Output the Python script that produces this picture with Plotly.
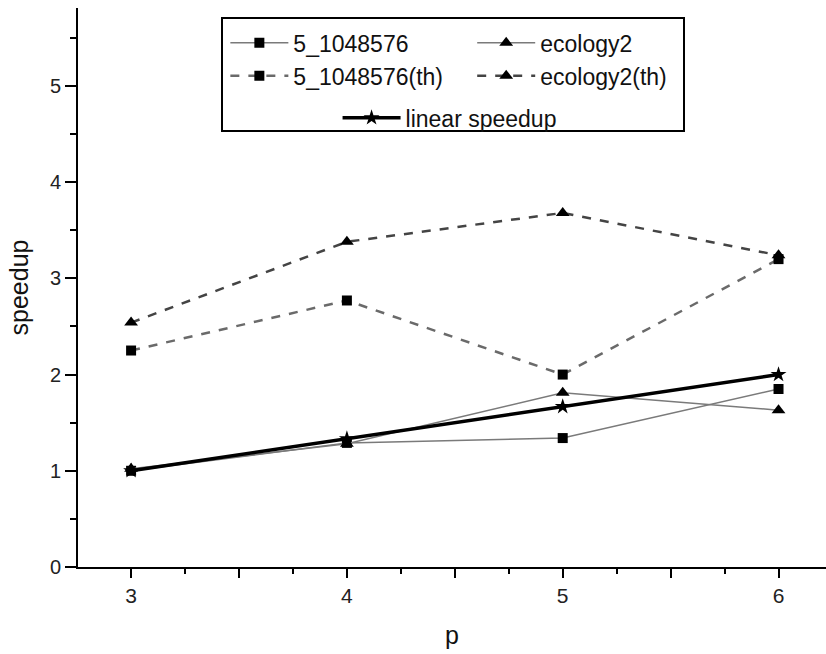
import plotly.graph_objects as go

p = [3, 4, 5, 6]
s_5_1048576 = [1.00, 1.29, 1.34, 1.85]
s_ecology2 = [1.02, 1.28, 1.81, 1.63]
s_5_1048576_th = [2.25, 2.77, 2.00, 3.20]
s_ecology2_th = [2.54, 3.38, 3.68, 3.24]
s_linear = [1.00, 1.333, 1.667, 2.00]

xtick_vals = [3, 3.5, 4, 4.5, 5, 5.5, 6]
xtick_text = ["3", "", "4", "", "5", "", "6"]
ytick_vals = [0, 1, 2, 3, 4, 5]
ytick_text = ["0", "1", "2", "3", "4", "5"]

FONT = "Liberation Sans, Arial, sans-serif"
fig = go.Figure()

fig.add_trace(go.Scatter(x=p, y=s_5_1048576, name="5_1048576", mode="lines+markers",
                         line=dict(color="#7a7a7a", width=1.5),
                         marker=dict(symbol="square", size=10, color="black"),
                         legend="legend"))
fig.add_trace(go.Scatter(x=p, y=s_5_1048576_th, name="5_1048576(th)", mode="lines+markers",
                         line=dict(color="#6a6a6a", width=2.5, dash="dash"),
                         marker=dict(symbol="square", size=10, color="black"),
                         legend="legend"))
fig.add_trace(go.Scatter(x=p, y=s_ecology2, name="ecology2", mode="lines+markers",
                         line=dict(color="#7a7a7a", width=1.5),
                         marker=dict(symbol="triangle-up", size=12, color="black"),
                         legend="legend2"))
fig.add_trace(go.Scatter(x=p, y=s_ecology2_th, name="ecology2(th)", mode="lines+markers",
                         line=dict(color="#444444", width=2.5, dash="dash"),
                         marker=dict(symbol="triangle-up", size=12, color="black"),
                         legend="legend2"))
fig.add_trace(go.Scatter(x=p, y=s_linear, name="linear speedup", mode="lines+markers",
                         line=dict(color="black", width=3.5),
                         marker=dict(symbol="star", size=12, color="black"),
                         legend="legend3"))

legfont = dict(family=FONT, size=23, color="#111")
common = dict(bgcolor="rgba(0,0,0,0)", borderwidth=0, font=legfont,
              xanchor="left", yanchor="top", orientation="v",
              tracegroupgap=0, itemwidth=58)

fig.update_layout(
    width=826, height=654,
    margin=dict(l=78, r=0, t=8, b=87),
    paper_bgcolor="white", plot_bgcolor="white",
    showlegend=True,
    legend=dict(x=0.197, y=0.976, **common),
    legend2=dict(x=0.527, y=0.976, **common),
    legend3=dict(x=0.347, y=0.842, **common),
    xaxis=dict(range=[2.754, 6.22], tickmode="array", tickvals=xtick_vals, ticktext=xtick_text,
               ticks="outside", ticklen=9, tickwidth=1.5, tickcolor="black",
               minor=dict(dtick=0.25, tick0=3, ticks="outside", ticklen=5, tickwidth=1.5, tickcolor="black"),
               showline=True, linecolor="black", linewidth=2, showgrid=False, zeroline=False,
               tickfont=dict(family=FONT, size=21, color="#222"),
               title=dict(text="p", font=dict(family=FONT, size=25, color="#111"), standoff=20)),
    yaxis=dict(range=[0, 5.81], tickmode="array", tickvals=ytick_vals, ticktext=ytick_text,
               ticks="outside", ticklen=11, tickwidth=1.5, tickcolor="black",
               minor=dict(dtick=0.5, tick0=0, ticks="outside", ticklen=6, tickwidth=1.5, tickcolor="black"),
               showline=True, linecolor="black", linewidth=2, showgrid=False, zeroline=False,
               tickfont=dict(family=FONT, size=20, color="#222"),
               title=dict(text="speedup", font=dict(family=FONT, size=25, color="#111"), standoff=14)),
)

# legend box
fig.add_shape(type="rect", xref="paper", yref="paper",
              x0=(222 - 78) / 748, x1=(684 - 78) / 748,
              y0=(567 - 131) / 559, y1=(567 - 18) / 559,
              line=dict(color="black", width=2), fillcolor="rgba(0,0,0,0)")

fig.write_html("out.html")
